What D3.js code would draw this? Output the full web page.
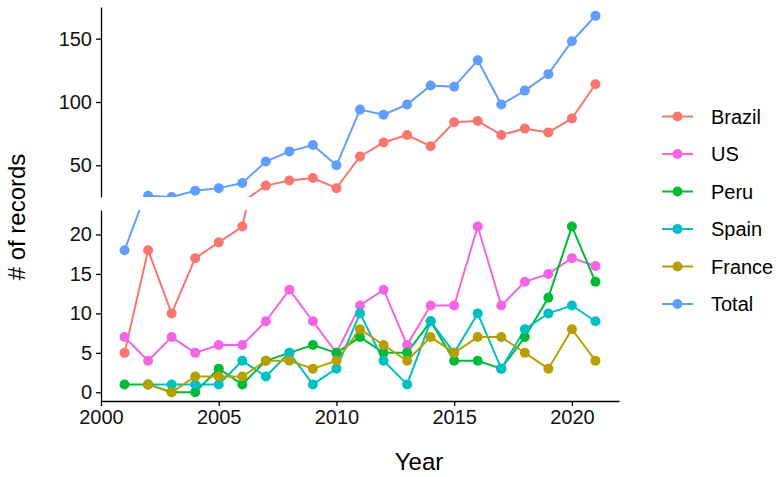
<!DOCTYPE html>
<html>
<head>
<meta charset="utf-8">
<script src="https://cdn.jsdelivr.net/npm/d3@7"></script>
<style>
  body { margin: 0; background: #fff; }
  svg { font-family: "Liberation Sans", Arial, Helvetica, sans-serif; }
</style>
</head>
<body>
<div id="chart"></div>
<script>
/* Records per year, broken y axis */

const years  = [2001, 2002, 2003, 2004, 2005, 2006, 2007, 2008, 2009, 2010,
                2011, 2012, 2013, 2014, 2015, 2016, 2017, 2018, 2019, 2020, 2021];
const brazil = [5, 18, 10, 17, 19, 21, 34, 38, 40, 32, 57, 68, 74, 65, 84, 85, 74, 79, 76, 87, 114];
const us     = [7, 4, 7, 5, 6, 6, 9, 13, 9, 5, 11, 13, 6, 11, 11, 21, 11, 14, 15, 17, 16];
const peru   = [1, 1, 0, 0, 3, 1, 4, 5, 6, 5, 7, 5, 5, 9, 4, 4, 3, 7, 12, 21, 14];
const spain  = [null, 1, 1, 1, 1, 4, 2, 5, 1, 3, 10, 4, 1, 9, 5, 10, 3, 8, 10, 11, 9];
const france = [null, 1, 0, 2, 2, 2, 4, 4, 3, 4, 8, 6, 4, 7, 5, 7, 7, 5, 3, 8, 4];
const total  = [18, 26, 25, 30, 32, 36, 53, 61, 66, 50, 94, 90, 98, 113, 112, 133, 98, 109, 122, 148, 168];

const seriesNames  = ["Brazil", "US", "Peru", "Spain", "France", "Total"];
const seriesColors = ["#F8766D", "#F564E3", "#00BA38", "#00BFC4", "#B79F00", "#619CFF"];
const xTicks       = [2000, 2005, 2010, 2015, 2020];
const topTicks     = [50, 100, 150];
const bottomTicks  = [0, 5, 10, 15, 20];

const series = [brazil, us, peru, spain, france, total].map((vals, i) => ({
    name: seriesNames[i],
    color: seriesColors[i],
    values: years.map((yr, j) => ({ year: yr, value: vals[j] }))
}));

const width = 780,
      height = 477;

const svg = d3.select("#chart")
              .append("svg")
              .attr("width", width)
              .attr("height", height);

const x = d3.scaleLinear()
            .domain([2000, 2022])
            .range([101, 619]);

// two panels: upper part and lower part of the broken axis
const panels = [
    { id: "top",    y: d3.scaleLinear().domain([25, 175]).range([197, 7]),     ticks: topTicks },
    { id: "bottom", y: d3.scaleLinear().domain([-1.1, 23.1]).range([401, 210]), ticks: bottomTicks }
];

panels.forEach(p => {
    const [y0, y1] = p.y.range();

    svg.append("clipPath")
        .attr("id", "clip-" + p.id)
        .append("rect")
        .attr("x", x.range()[0])
        .attr("y", y1)
        .attr("width", x.range()[1] - x.range()[0])
        .attr("height", y0 - y1);

    const g = svg.append("g").attr("clip-path", `url(#clip-${p.id})`);

    const line = d3.line()
        .defined(d => d.value != null)
        .x(d => x(d.year))
        .y(d => p.y(d.value));

    g.selectAll("path.series")
        .data(series)
        .join("path")
        .attr("class", "series")
        .attr("fill", "none")
        .attr("stroke", d => d.color)
        .attr("stroke-width", 2)
        .attr("d", d => line(d.values));

    series.forEach(s => {
        g.append("g")
            .selectAll("circle")
            .data(s.values.filter(d => d.value != null))
            .join("circle")
            .attr("cx", d => x(d.year))
            .attr("cy", d => p.y(d.value))
            .attr("r", 5)
            .attr("fill", s.color);
    });

    const yAxis = svg.append("g")
        .attr("transform", `translate(${x.range()[0]},0)`)
        .call(d3.axisLeft(p.y).tickValues(p.ticks).tickSize(5).tickPadding(4).tickSizeOuter(0));
    yAxis.select(".domain").attr("stroke", "#000").attr("stroke-width", 1.3);
    yAxis.selectAll(".tick line").attr("stroke", "#000").attr("stroke-width", 1.3);
    yAxis.selectAll(".tick text")
        .attr("fill", "#111")
        .style("font-size", "20px")
        .style("font-family", "Liberation Sans, Arial, sans-serif");
});

const xAxis = svg.append("g")
    .attr("transform", `translate(0,401)`)
    .call(d3.axisBottom(x).tickValues(xTicks).tickFormat(d3.format("d")).tickSize(5).tickPadding(4).tickSizeOuter(0));
xAxis.select(".domain").attr("stroke", "#000").attr("stroke-width", 1.3);
xAxis.selectAll(".tick line").attr("stroke", "#000").attr("stroke-width", 1.3);
xAxis.selectAll(".tick text")
    .attr("fill", "#111")
    .style("font-size", "20px")
    .style("font-family", "Liberation Sans, Arial, sans-serif");

// axis titles
svg.append("text")
    .attr("x", 419)
    .attr("y", 470)
    .attr("text-anchor", "middle")
    .style("font-size", "24px")
    .text("Year");

svg.append("text")
    .attr("transform", "translate(25,217) rotate(-90)")
    .attr("text-anchor", "middle")
    .style("font-size", "24px")
    .text("# of records");

// legend
const legend = svg.append("g")
    .selectAll("g")
    .data(series)
    .join("g")
    .attr("transform", (d, i) => `translate(662,${116.5 + i * 37.5})`);

legend.append("line")
    .attr("x1", 0).attr("x2", 31)
    .attr("stroke", d => d.color)
    .attr("stroke-width", 2);

legend.append("circle")
    .attr("cx", 15.5)
    .attr("r", 5)
    .attr("fill", d => d.color);

legend.append("text")
    .attr("x", 49)
    .attr("dy", "0.35em")
    .style("font-size", "20px")
    .text(d => d.name);
</script>
</body>
</html>
